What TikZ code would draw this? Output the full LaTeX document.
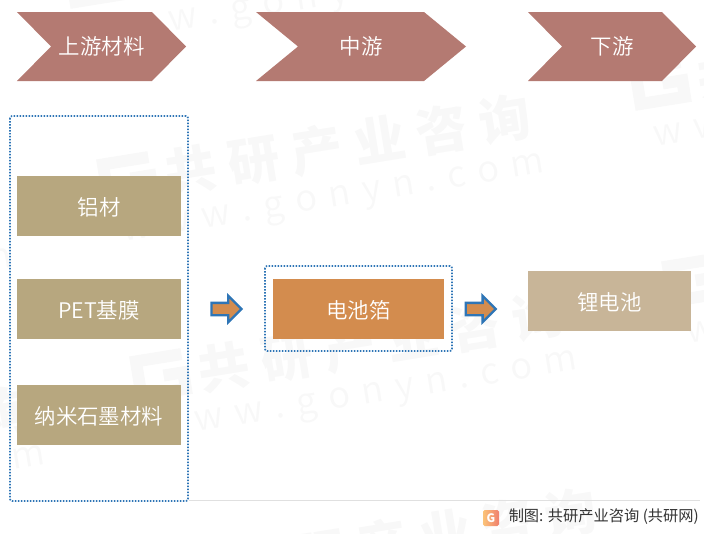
\documentclass[tikz,border=0pt]{standalone}
\usepackage{fontspec}
\setmainfont{Noto Sans CJK SC}[UprightFont={* DemiLight},BoldFont={* Black}]
\newfontfamily\footfont{Noto Sans CJK SC}
\usetikzlibrary{shapes.arrows}
\definecolor{headred}{HTML}{B47A72}
\definecolor{tanbox}{HTML}{B7A77F}
\definecolor{foilbox}{HTML}{D38C4E}
\definecolor{batterybox}{HTML}{C8B598}
\definecolor{dotblue}{HTML}{2E75B6}
\definecolor{markgray}{HTML}{F8F8F8}
\definecolor{logoleft}{HTML}{FBC378}
\definecolor{logoright}{HTML}{F0806E}
\tikzset{
  chevron/.style={fill=headred},
  headtext/.style={text=white,font=\fontsize{18.3pt}{20pt}\selectfont},
  material/.style={fill=tanbox,text=white,minimum width=4.92cm,minimum height=1.8cm,text height=0.65cm,text depth=0.06cm,font=\fontsize{18.3pt}{20pt}\selectfont},
  groupbox/.style={draw=dotblue,line width=0.05cm,dash pattern=on 0.045cm off 0.045cm,rounded corners=0.06cm},
  flowarrow/.style={single arrow,draw=dotblue,fill=foilbox,line width=0.07cm,text height=0.3cm,text depth=0cm,minimum height=0.9cm,single arrow head extend=0.21cm,single arrow head indent=0cm,inner sep=0pt},
  markcn/.style={text=markgray,font=\fontsize{44pt}{48pt}\selectfont\bfseries},
  markurl/.style={text=markgray,font=\fontsize{31pt}{34pt}\selectfont},
}
\begin{document}
\begin{tikzpicture}
\useasboundingbox (0cm,0cm) rectangle (21.12cm,-16.02cm);
\begin{scope}
\clip (0cm,0cm) rectangle (21.12cm,-16.02cm);
% watermark
\foreach \cx/\cy/\i in {10.44/-4.35/a, 11.43/-10.26/b, 12.42/-16.17/c, 9.45/1.56/d, 26.4/-1.5/e, 27.39/-7.41/f, -5.52/-7.2/g, -4.53/-13.11/h}
{
\begin{scope}[shift={(\cx cm,\cy cm)},rotate=9.2,transform shape]
\draw [markgray, line width=0.36cm] (-5.97cm,0.6cm) -- (-7.35cm,0.6cm) -- (-7.35cm,-0.45cm) -- (-6.0cm,-0.45cm) -- (-6.0cm,0.05cm) -- (-6.6cm,0.05cm);
\node [markcn] (markcn\i) at (0cm,0cm) {共\hspace{0.36cm}研\hspace{0.36cm}产\hspace{0.36cm}业\hspace{0.36cm}咨\hspace{0.36cm}询};
\node [markurl] (markurl\i) at (-0.7cm,-1.6cm) {w\hspace{0.36cm}w\hspace{0.36cm}w\hspace{0.36cm}.\hspace{0.36cm}g\hspace{0.36cm}o\hspace{0.36cm}n\hspace{0.36cm}y\hspace{0.36cm}n\hspace{0.36cm}.\hspace{0.36cm}c\hspace{0.36cm}o\hspace{0.36cm}m};
\end{scope}
}
\end{scope}

% header chevrons
\fill [chevron] (0.51cm,-0.36cm) -- (4.56cm,-0.36cm) -- (5.58cm,-1.395cm) -- (4.56cm,-2.43cm) -- (0.51cm,-2.43cm) -- (1.53cm,-1.395cm) -- cycle;
\node [headtext] (upstream) at (3.05cm,-1.395cm) {上游材料};
\fill [chevron] (7.68cm,-0.36cm) -- (12.72cm,-0.36cm) -- (13.98cm,-1.395cm) -- (12.72cm,-2.43cm) -- (7.68cm,-2.43cm) -- (8.94cm,-1.395cm) -- cycle;
\node [headtext] (midstream) at (10.83cm,-1.395cm) {中游};
\fill [chevron] (15.84cm,-0.36cm) -- (19.86cm,-0.36cm) -- (20.88cm,-1.395cm) -- (19.86cm,-2.43cm) -- (15.84cm,-2.43cm) -- (16.86cm,-1.395cm) -- cycle;
\node [headtext] (downstream) at (18.36cm,-1.395cm) {下游};

% dotted groups
\draw [groupbox] (0.3cm,-3.48cm) rectangle (5.64cm,-15.03cm);
\draw [groupbox] (7.95cm,-7.98cm) rectangle (13.56cm,-10.53cm);

% boxes
\node [material] (foil) at (2.97cm,-6.18cm) {铝材};
\node [material] (petfilm) at (2.97cm,-9.27cm) {PET基膜};
\node [material] (nanocarbon) at (2.97cm,-12.45cm) {纳米石墨材料};
\node [material,fill=foilbox,minimum width=5.13cm] (currentfoil) at (10.755cm,-9.27cm) {电池箔};
\node [material,fill=batterybox,minimum width=4.89cm] (battery) at (18.285cm,-9.03cm) {锂电池};

% block arrows
\node [flowarrow] (arrowleft) at (6.7cm,-9.27cm) {};
\node [flowarrow] (arrowright) at (14.33cm,-9.27cm) {};

% footer
\draw [black!12, line width=0.03cm] (5.66cm,-15cm) -- (21cm,-15cm);
\shade [left color=logoleft, right color=logoright, rounded corners=0.05cm] (14.49cm,-15.3cm) rectangle (14.97cm,-15.78cm);
\node [text=white,font=\fontsize{10pt}{10pt}\selectfont\bfseries] (logo) at (14.73cm,-15.54cm) {G};
\node [anchor=east,inner sep=0pt,text=black!80,font=\fontsize{13pt}{14pt}\footfont] (source) at (20.97cm,-15.5cm) {制图: 共研产业咨询 (共研网)};
\end{tikzpicture}
\end{document}
